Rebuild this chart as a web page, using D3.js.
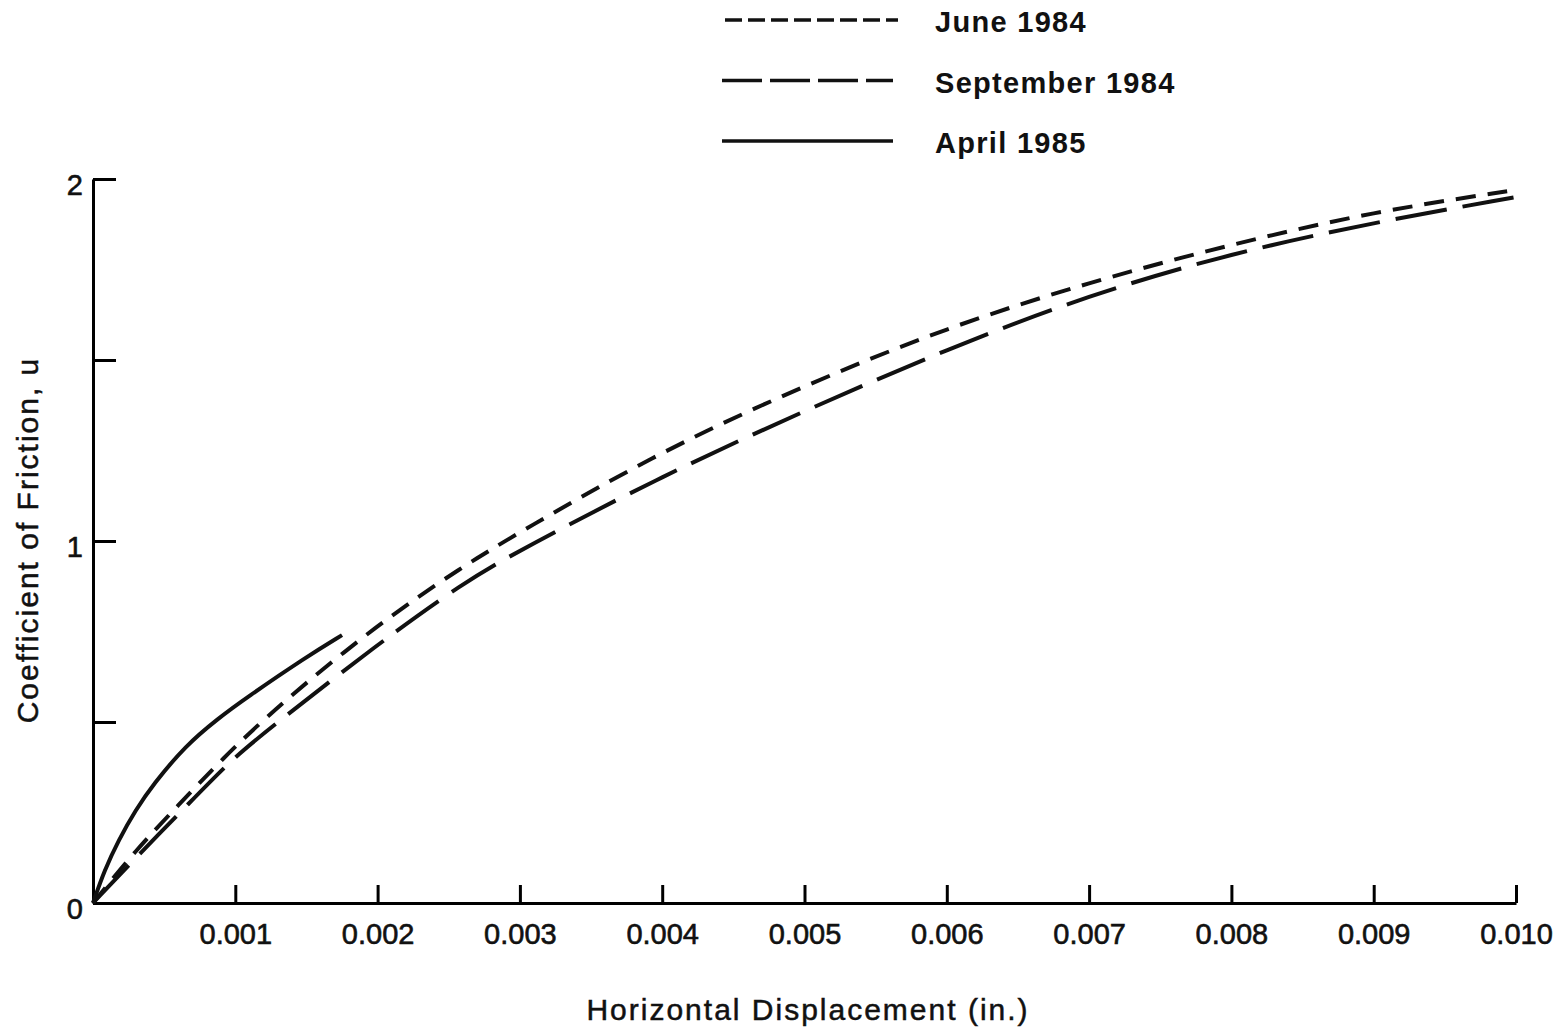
<!DOCTYPE html>
<html>
<head>
<meta charset="utf-8">
<script src="https://cdn.jsdelivr.net/npm/d3@7"></script>
<style>
  body { margin: 0; background: #fff; }
  text { font-family: "Liberation Sans", Arial, sans-serif; fill: #111; }
</style>
</head>
<body>
<svg id="chart"></svg>
<script>
// displacement (in.) and friction values
const juneX = [0, 0.0003, 0.0006, 0.0009, 0.0013, 0.002, 0.0026, 0.003, 0.004, 0.005, 0.006, 0.007, 0.008, 0.009, 0.010];
const juneY = [0, 0.146, 0.27, 0.395, 0.545, 0.77, 0.93, 1.025, 1.25, 1.43, 1.59, 1.715, 1.82, 1.91, 1.97];

const septX = [0, 0.0003, 0.00065, 0.00095, 0.0012, 0.002, 0.0026, 0.003, 0.004, 0.005, 0.006, 0.007, 0.008, 0.009, 0.010];
const septY = [0, 0.125, 0.265, 0.387, 0.47, 0.715, 0.884, 0.975, 1.18, 1.36, 1.53, 1.68, 1.795, 1.88, 1.95];

const aprilX = [0, 0.00008, 0.00018, 0.0003, 0.00042, 0.00065, 0.00088, 0.00107, 0.0015, 0.00175];
const aprilY = [0, 0.09, 0.174, 0.257, 0.326, 0.435, 0.51, 0.565, 0.68, 0.74];

const xTicks = [0.001, 0.002, 0.003, 0.004, 0.005, 0.006, 0.007, 0.008, 0.009, 0.010];
const yTicks = [0, 0.5, 1, 1.5, 2];
const yLabels = [0, 1, 2];

const seriesNames = ["June 1984", "September 1984", "April 1985"];
const dashes = ["20,12", "52,16", null];
const legendDashes = ["17,6", "40,8", null];

const width = 1560, height = 1028;
const margin = { top: 179, right: 44, bottom: 125, left: 93 };

const svg = d3.select("#chart").attr("width", width).attr("height", height);

const x = d3.scaleLinear().domain([0, 0.010]).range([margin.left, width - margin.right]);
const y = d3.scaleLinear().domain([0, 2]).range([height - margin.bottom, margin.top]);

// x axis, ticks pointing inward
const xAxis = d3.axisBottom(x)
  .tickValues(xTicks)
  .tickFormat(d3.format(".3f"))
  .tickSizeInner(-18)
  .tickSizeOuter(0)
  .tickPadding(20);

svg.append("g")
  .attr("transform", `translate(0,${y(0)})`)
  .call(xAxis)
  .call(g => g.select(".domain").attr("stroke-width", 3))
  .call(g => g.selectAll(".tick line").attr("stroke-width", 3))
  .call(g => g.selectAll(".tick text")
    .attr("font-size", 29).attr("fill", "#111")
    .attr("stroke", "#111").attr("stroke-width", 0.6));

// y axis
const yAxis = d3.axisLeft(y)
  .tickValues(yTicks)
  .tickFormat(d => yLabels.includes(d) ? d : "")
  .tickSizeInner(-23)
  .tickSizeOuter(0)
  .tickPadding(10);

svg.append("g")
  .attr("transform", `translate(${x(0)},0)`)
  .call(yAxis)
  .call(g => g.select(".domain").attr("stroke-width", 3))
  .call(g => g.selectAll(".tick line").attr("stroke-width", 3))
  .call(g => g.selectAll(".tick text")
    .attr("font-size", 29).attr("dy", "0.55em").attr("fill", "#111")
    .attr("stroke", "#111").attr("stroke-width", 0.6));

// axis titles
svg.append("text")
  .attr("x", 808)
  .attr("y", 1020)
  .attr("text-anchor", "middle")
  .attr("font-size", 30)
  .attr("letter-spacing", 2)
  .attr("stroke", "#111").attr("stroke-width", 0.5)
  .text("Horizontal Displacement (in.)");

svg.append("text")
  .attr("transform", "translate(38,540) rotate(-90)")
  .attr("text-anchor", "middle")
  .attr("font-size", 30)
  .attr("letter-spacing", 2)
  .attr("stroke", "#111").attr("stroke-width", 0.5)
  .text("Coefficient of Friction, u");

// curves
const line = d3.line()
  .x(d => x(d[0]))
  .y(d => y(d[1]))
  .curve(d3.curveBasis);

const series = [
  d3.zip(juneX, juneY),
  d3.zip(septX, septY),
  d3.zip(aprilX, aprilY)
];

series.forEach((pts, i) => {
  svg.append("path")
    .datum(pts)
    .attr("d", line)
    .attr("fill", "none")
    .attr("stroke", "#111")
    .attr("stroke-width", 4)
    .attr("stroke-dasharray", dashes[i]);
});

// legend
const legend = svg.append("g");
seriesNames.forEach((name, i) => {
  const ly = 20 + i * 60.5;
  legend.append("line")
    .attr("x1", i === 0 ? 725 : 722).attr("x2", i === 0 ? 898 : 893)
    .attr("y1", ly).attr("y2", ly)
    .attr("stroke", "#111")
    .attr("stroke-width", 3.5)
    .attr("stroke-dasharray", legendDashes[i]);
  legend.append("text")
    .attr("x", 935)
    .attr("y", ly + 12)
    .attr("font-size", 29)
    .attr("font-weight", "bold")
    .attr("letter-spacing", 1.3)
    .text(name);
});
</script>
</body>
</html>
